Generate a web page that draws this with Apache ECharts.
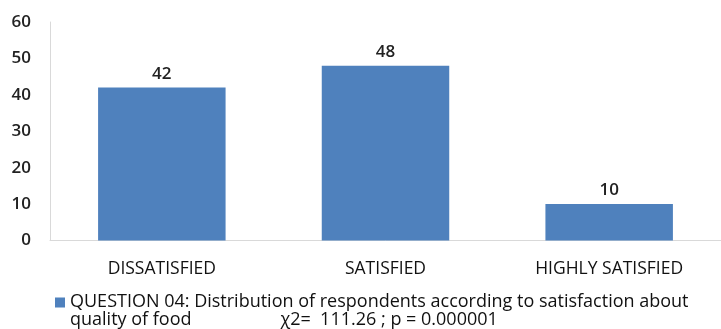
<!DOCTYPE html>
<html>
<head>
<meta charset="utf-8">
<script src="https://cdn.jsdelivr.net/npm/echarts@6/dist/echarts.min.js"></script>
<style>html,body{margin:0;padding:0;background:#fff}#c{width:721px;height:329px}</style>
</head>
<body>
<div id="c"></div>
<script>
var categories = ['DISSATISFIED', 'SATISFIED', 'HIGHLY SATISFIED'];
var values = [42, 48, 10];
var seriesName = 'QUESTION 04: Distribution of respondents according to satisfaction about\nquality of food                   \u03c72=  111.26 ; p = 0.000001';
var yTicks = {min: 0, max: 60, interval: 10};

var chart = echarts.init(document.getElementById('c'), null, {renderer: 'canvas'});
var font = 'Open Sans';
chart.setOption({
  animation: false,
  backgroundColor: '#fff',
  grid: {left: 50, right: -10, top: 22, bottom: 88.5, containLabel: false},
  legend: {
    left: 55, top: 293, padding: 0, itemWidth: 10, itemHeight: 27, itemGap: 7,
    icon: 'path://M0,0H10V10H0Z M0,27H0.01V26.99H0Z',
    itemStyle: {borderWidth: 0},
    textStyle: {fontFamily: font, fontSize: 18, color: '#111', lineHeight: 18}
  },
  xAxis: {
    type: 'category', data: categories,
    axisLine: {lineStyle: {color: '#d9d9d9', width: 1}},
    axisTick: {show: false},
    axisLabel: {fontFamily: font, fontSize: 17.5, color: '#111', margin: 20}
  },
  yAxis: {
    type: 'value', min: yTicks.min, max: yTicks.max, interval: yTicks.interval,
    splitLine: {show: false},
    axisLine: {show: true, lineStyle: {color: '#d9d9d9', width: 1}},
    axisTick: {show: false},
    axisLabel: {fontFamily: font, fontSize: 17, color: '#222', fontWeight: 600, margin: 19}
  },
  series: [{
    name: seriesName, type: 'bar', data: values,
    barCategoryGap: '43%',
    itemStyle: {color: '#4f81bd'},
    label: {show: true, position: 'top', distance: 5, fontFamily: font, fontSize: 17, fontWeight: 600, color: '#222'}
  }]
});
</script>
</body>
</html>
